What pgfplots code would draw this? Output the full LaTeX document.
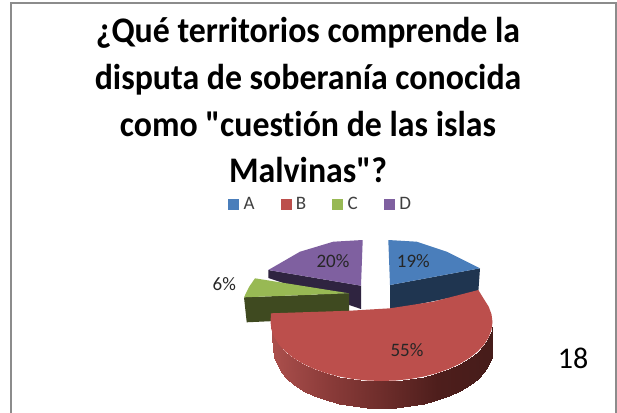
\documentclass[border=0pt]{standalone}
\usepackage{pgfplots}
\pgfplotsset{compat=1.18}
\usepackage{fontspec}
\setmainfont{Carlito}[Ligatures={TeXOff,NoCommon}]
\definecolor{cA}{HTML}{4A7EBB}
\definecolor{cB}{HTML}{BC4F4C}
\definecolor{cC}{HTML}{98B954}
\definecolor{cD}{HTML}{7F60A0}
\definecolor{sA}{HTML}{1F3550}
\definecolor{sC}{HTML}{3F4A20}
\definecolor{sD}{HTML}{2F2440}
\begin{document}
\begin{tikzpicture}
\begin{axis}[
  x=1pt,y=1pt,xmin=0,xmax=617,ymin=0,ymax=412,y dir=reverse,
  hide axis,clip=true,
  colormap={pieside}{rgb255=(172,80,77) rgb255=(140,60,58) rgb255=(110,45,43) rgb255=(78,30,28) rgb255=(70,28,26)},
  legend style={at={(axis cs:228,204)},anchor=west,draw=none,fill=none,font=\fontsize{19}{20}\selectfont,text=black!75,
    legend columns=4,/tikz/every odd column/.style={column sep=3pt},/tikz/every even column/.style={column sep=24pt},inner sep=0pt},
  legend image code/.code={\fill[#1] (0pt,-5pt) rectangle (10pt,5pt);},
]
\addlegendimage{cA}\addlegendentry{A}
\addlegendimage{cB}\addlegendentry{B}
\addlegendimage{cC}\addlegendentry{C}
\addlegendimage{cD}\addlegendentry{D}
% page
\addplot[fill=white,draw=none,forget plot] coordinates {(0,0) (617,0) (617,412) (0,412)};
% frame
\addplot[draw=black!45,line width=2pt,forget plot] coordinates {(11,413) (11,3) (616,3) (616,413)};
% D
\addplot[fill=sD,draw=none,forget plot] coordinates {(268.3,270) (268.3,278) (361,309) (361,285.7)};
\addplot[fill=cD,draw=none,forget plot] coordinates {(361,285.7) (362.7,240) (333.3,241.7) (300,251.7) (268.3,270)};
% A
\addplot[fill=sA,draw=none,forget plot] coordinates {(390,285) (480,268.3) (478.3,292) (390,310)};
\addplot[fill=cA,draw=none,forget plot] coordinates {(390,285) (388.3,240) (416.7,241.7) (446.7,251.7) (480,268.3)};
% C
\addplot[fill=sC,draw=none,forget plot] coordinates {(244,297.3) (246.7,322.3) (275,321) (349,312) (349,293.3)};
\addplot[fill=cC,draw=none,forget plot] coordinates {(349,293.3) (255,278.3) (249,287) (244,297.3)};
% B side
\addplot[surf,shader=interp,mesh/rows=2,mesh/cols=25,point meta=x,forget plot] coordinates {
(270.5,322) (271.5,329.7) (274.3,337.3) (278.9,344.6) (285.4,351.5) (293.4,357.9) (303,363.7) (313.9,368.8) (326,373.1) (339,376.5) (352.8,379) (367,380.5) (381.5,381) (396,380.5) (410.2,379) (424,376.5) (437,373.1) (449.1,368.8) (460,363.7) (469.6,357.9) (477.6,351.5) (484.1,344.6) (488.7,337.3) (491.5,329.7) (492.5,322)

(273,349) (274,356.7) (276.5,364.3) (280.5,371.6) (286.5,378.5) (294,384.9) (303,390.7) (313.9,395.8) (326,400.1) (339,403.5) (352.8,406) (367,407.5) (381.5,408) (396,407.5) (410.2,406) (424,403.5) (437,400.1) (449.1,395.8) (460,390.7) (469.6,384.9) (477.6,378.5) (484.1,371.6) (488.7,364.3) (491.5,356.7) (492.5,349)
};
% B top
\addplot[fill=cB,draw=none,forget plot] coordinates {(271,313.3) (350,310.7) (390,308.3) (433,301.7) (478.3,290) (484.1,299.4) (488.7,306.7) (491.5,314.3) (492.5,322) (491.5,329.7) (488.7,337.3) (484.1,344.6) (477.6,351.5) (469.6,357.9) (460,363.7) (449.1,368.8) (437,373.1) (424,376.5) (410.2,379) (396,380.5) (381.5,381) (367,380.5) (352.8,379) (339,376.5) (326,373.1) (313.9,368.8) (303,363.7) (293.4,357.9) (285.4,351.5) (278.9,344.6) (274.3,337.3) (271.5,329.7) (270.5,322)};
% labels
\node[font=\fontsize{19}{20}\selectfont,text=black!85] at (axis cs:413.3,260.7) {19\%};
\node[font=\fontsize{19}{20}\selectfont,text=black!85] at (axis cs:333,260.7) {20\%};
\node[font=\fontsize{19}{20}\selectfont,text=black!85] at (axis cs:224.3,284) {6\%};
\node[font=\fontsize{19}{20}\selectfont,text=black!85] at (axis cs:407,350) {55\%};
\node[font=\fontsize{30}{32}\selectfont] at (axis cs:573,358) {18};
\node[font=\fontsize{36}{47}\selectfont\bfseries\addfontfeature{FakeStretch=0.94},anchor=base] at (axis cs:308,43) {¿Qué territorios comprende la};
\node[font=\fontsize{36}{47}\selectfont\bfseries\addfontfeature{FakeStretch=0.94},anchor=base] at (axis cs:308,89) {disputa de soberanía conocida};
\node[font=\fontsize{36}{47}\selectfont\bfseries\addfontfeature{FakeStretch=0.94},anchor=base] at (axis cs:308,136) {como "cuestión de las islas};
\node[font=\fontsize{36}{47}\selectfont\bfseries\addfontfeature{FakeStretch=0.94},anchor=base] at (axis cs:308,182) {Malvinas"?};
\end{axis}
\end{tikzpicture}
\end{document}
